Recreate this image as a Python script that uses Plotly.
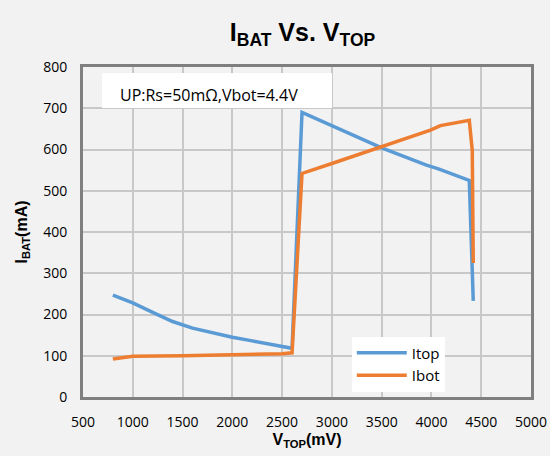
import plotly.graph_objects as go

vtop_itop = [800, 1000, 1200, 1400, 1600, 1800, 2000, 2200, 2400, 2600, 2700, 3000, 3500, 3950, 4070, 4380, 4420]
itop = [247, 228, 205, 183, 167, 155, 145, 136, 128, 118, 690, 658, 604, 562, 553, 525, 233]

vtop_ibot = [800, 1000, 1500, 2000, 2500, 2600, 2700, 3000, 3500, 3990, 4090, 4380, 4410, 4420]
ibot = [92, 99, 100, 102, 105, 107, 542, 566, 607, 647, 658, 671, 598, 325]

x_ticks = [500, 1000, 1500, 2000, 2500, 3000, 3500, 4000, 4500, 5000]
y_ticks = [0, 100, 200, 300, 400, 500, 600, 700, 800]

note_text = "UP:Rs=50mΩ,Vbot=4.4V"

fig = go.Figure()
fig.add_trace(go.Scatter(x=vtop_itop, y=itop, mode="lines", name="Itop",
                         line=dict(color="#5b9bd5", width=3.5)))
fig.add_trace(go.Scatter(x=vtop_ibot, y=ibot, mode="lines", name="Ibot",
                         line=dict(color="#ed7d31", width=3.5)))

tick_font = dict(family="Open Sans, Liberation Sans, Arial", size=14, color="#000")
axis_common = dict(showline=True, linecolor="#7f7f7f", linewidth=3, mirror=True,
                   showgrid=True, gridcolor="#c8c8c8", gridwidth=2, zeroline=False,
                   ticks="outside", tickcolor="rgba(0,0,0,0)", automargin=False,
                   tickfont=tick_font)

fig.update_layout(
    width=550, height=456,
    margin=dict(l=83, r=19, t=67, b=59),
    paper_bgcolor="#f2f2f2", plot_bgcolor="#f2f2f2",
    title=dict(text="<b>I<sub>BAT</sub> Vs. V<sub>TOP</sub></b>", x=0.55, xanchor="center",
               y=0.93, yanchor="middle",
               font=dict(family="Liberation Sans Narrow, Arial Narrow, Liberation Sans", size=25, color="#000")),
    xaxis=dict(range=[500, 5000], tickvals=x_ticks, ticktext=[str(v) for v in x_ticks], ticklen=10,
               title=dict(text="<b>V<sub>TOP</sub>(mV)</b>", standoff=4,
                          font=dict(family="Liberation Sans, Arial", size=16, color="#000")),
               **axis_common),
    yaxis=dict(range=[0, 800], tickvals=y_ticks, ticktext=[str(v) for v in y_ticks], ticklen=10,
               title=dict(text="<b>I<sub>BAT</sub>(mA)</b>", standoff=12,
                          font=dict(family="Liberation Sans, Arial", size=16, color="#000")),
               **axis_common),
    legend=dict(x=0.6, y=0.10, xanchor="left", yanchor="middle", bgcolor="#ffffff",
                font=dict(family="Open Sans, Liberation Sans, Arial", size=15, color="#000"),
                itemwidth=50, tracegroupgap=4),
    showlegend=True,
)

fig.add_shape(type="rect", xref="paper", yref="paper", x0=0.0424, x1=0.5558, y0=0.8758, y1=0.9818,
              fillcolor="#ffffff", line=dict(width=0), layer="above")
fig.add_annotation(xref="paper", yref="paper", x=0.078, y=0.915, xanchor="left", yanchor="middle",
                   text=note_text, showarrow=False, align="left",
                   font=dict(family="Open Sans, Liberation Sans, Arial", size=16, color="#000"))

fig.write_html("out.html", config={"displayModeBar": False},
               post_script="document.body.style.margin='0';document.body.style.background='#f2f2f2';")
